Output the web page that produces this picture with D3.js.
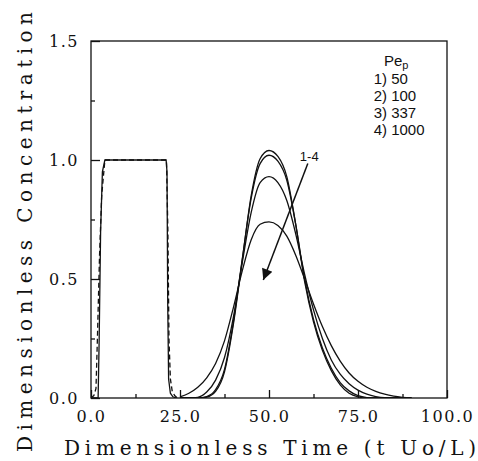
<!DOCTYPE html>
<html>
<head>
<meta charset="utf-8">
<script src="https://cdnjs.cloudflare.com/ajax/libs/d3/7.8.5/d3.min.js"></script>
<style>
  body { margin: 0; background: #fff; }
  .tick text { font-family: "DejaVu Serif", serif; font-size: 16px; letter-spacing: 1.5px; fill: #111; }
  .axis path, .axis line { stroke: #111; stroke-width: 1.3; }
  .curve { fill: none; stroke: #111; stroke-width: 1.3; }
</style>
</head>
<body>
<div id="chart"></div>
<script>
// tick labels
var xTicks = [0, 25, 50, 75, 100];
var xMinor = [12.5, 37.5, 62.5, 87.5];
var yTicks = [0, 0.5, 1.0, 1.5];
var yMinor = [0.25, 0.75, 1.25];

// injected pulse (solid) and measured inlet (dashed)
var pulseSolidT = [0, 2.0, 2.3, 2.7, 3.2, 3.9, 21.1, 21.35, 21.55, 21.8, 22.3, 23.0, 24.0];
var pulseSolidC = [0, 0, 0.25, 0.7, 0.95, 1.0, 1.0, 0.95, 0.4, 0.08, 0.02, 0.005, 0];
var pulseDashT = [0, 0.8, 1.4, 1.8, 2.4, 3.0, 3.9, 21.2, 21.6, 21.9, 22.3, 22.8, 23.5, 24.3];
var pulseDashC = [0, 0.01, 0.04, 0.25, 0.6, 0.85, 1.0, 1.0, 0.7, 0.25, 0.08, 0.03, 0.01, 0];

// outlet curves, one per Pe_p
var peakT = [25, 27.5, 30, 32.5, 35, 37.5, 40, 42.5, 45, 47.5, 50, 52.5, 55, 57.5, 60, 62.5, 65, 67.5, 70, 72.5, 75, 77.5, 80, 82.5, 85, 87.5, 90];
var pe50 = [0.005, 0.02, 0.045, 0.085, 0.145, 0.24, 0.38, 0.535, 0.665, 0.73, 0.74, 0.725, 0.68, 0.60, 0.50, 0.395, 0.30, 0.22, 0.155, 0.105, 0.07, 0.045, 0.028, 0.016, 0.008, 0.003, 0];
var pe100 = [0, 0, 0.003, 0.025, 0.075, 0.17, 0.34, 0.57, 0.78, 0.905, 0.93, 0.905, 0.83, 0.69, 0.52, 0.37, 0.25, 0.16, 0.10, 0.06, 0.033, 0.016, 0.006, 0.001, 0, 0, 0];
var pe337 = [0, 0, 0, 0.006, 0.035, 0.12, 0.32, 0.585, 0.84, 0.985, 1.02, 0.995, 0.915, 0.73, 0.50, 0.33, 0.21, 0.125, 0.065, 0.03, 0.01, 0.002, 0, 0, 0, 0, 0];
var pe1000 = [0, 0, 0, 0.004, 0.028, 0.11, 0.31, 0.58, 0.85, 1.005, 1.04, 1.015, 0.93, 0.73, 0.49, 0.32, 0.20, 0.115, 0.055, 0.02, 0.005, 0, 0, 0, 0, 0, 0];

var legendTitle = "Pe";
var legendItems = ["1) 50", "2) 100", "3) 337", "4) 1000"];

var margin = { top: 41, right: 31, bottom: 63, left: 91 },
    width = 478 - margin.left - margin.right,
    height = 461 - margin.top - margin.bottom;

var svg = d3.select("#chart")
    .append("svg")
    .attr("width", 478)
    .attr("height", 461);

var g = svg.append("g")
    .attr("transform", "translate(" + margin.left + "," + margin.top + ")");

var x = d3.scaleLinear().domain([0, 100]).range([0, width]);
var y = d3.scaleLinear().domain([0, 1.5]).range([height, 0]);

var defs = svg.append("defs");
defs.append("clipPath").attr("id", "plot-clip")
    .append("rect").attr("width", width).attr("height", height + 1).attr("y", -1);

// frame
g.append("rect")
    .attr("width", width)
    .attr("height", height)
    .attr("fill", "none")
    .attr("stroke", "#111")
    .attr("stroke-width", 1.3);

// axes, ticks pointing in
g.append("g").attr("class", "axis")
    .attr("transform", "translate(0," + height + ")")
    .call(d3.axisBottom(x).tickValues(xTicks).tickSize(-8).tickPadding(13)
        .tickFormat(function(d) { return d3.format(".1f")(d); }));
g.append("g").attr("class", "axis")
    .attr("transform", "translate(0," + height + ")")
    .call(d3.axisBottom(x).tickValues(xMinor).tickSize(-4).tickFormat(""));

g.append("g").attr("class", "axis")
    .call(d3.axisLeft(y).tickValues(yTicks).tickSize(-9).tickPadding(12)
        .tickFormat(function(d) { return d3.format(".1f")(d); }));
g.append("g").attr("class", "axis")
    .call(d3.axisLeft(y).tickValues(yMinor).tickSize(-4).tickFormat(""));

g.selectAll(".axis .domain").remove();

// curves
var line = d3.line()
    .x(function(d) { return x(d[0]); })
    .y(function(d) { return y(d[1]); });

var plot = g.append("g").attr("clip-path", "url(#plot-clip)");

plot.append("path")
    .datum(d3.zip(pulseDashT, pulseDashC))
    .attr("class", "curve")
    .attr("stroke-dasharray", "5,3")
    .attr("d", line);

plot.append("path")
    .datum(d3.zip(pulseSolidT, pulseSolidC))
    .attr("class", "curve")
    .attr("d", line);

var smooth = d3.line()
    .x(function(d) { return x(d[0]); })
    .y(function(d) { return y(d[1]); })
    .curve(d3.curveMonotoneX);

[pe50, pe100, pe337, pe1000].forEach(function(vals) {
    plot.append("path")
        .datum(d3.zip(peakT, vals))
        .attr("class", "curve")
        .attr("d", smooth);
});

// legend
var leg = g.append("g")
    .style("font-family", "'Liberation Sans', Arial, sans-serif")
    .style("font-size", "15px")
    .attr("fill", "#111");

var pe = leg.append("text").attr("x", x(82.3)).attr("y", y(1.395));
pe.append("tspan").text(legendTitle);
pe.append("tspan").attr("dy", 3).style("font-size", "11px").text("p");

leg.selectAll(".item")
    .data(legendItems)
    .enter()
    .append("text")
    .attr("class", "item")
    .attr("x", x(79.4))
    .attr("y", function(d, i) { return y(1.318) + i * 17; })
    .text(function(d) { return d; });

// arrow 1-4
defs.append("marker")
    .attr("id", "head")
    .attr("viewBox", "0 0 10 10")
    .attr("refX", 10).attr("refY", 5)
    .attr("markerWidth", 17).attr("markerHeight", 11)
    .attr("markerUnits", "userSpaceOnUse")
    .attr("orient", "auto")
    .append("path")
    .attr("d", "M0,0 L10,5 L0,10 Z")
    .attr("fill", "#111");

g.append("line")
    .attr("x1", x(60.9)).attr("y1", y(0.985))
    .attr("x2", x(48.4)).attr("y2", y(0.496))
    .attr("stroke", "#111")
    .attr("stroke-width", 1.5)
    .attr("marker-end", "url(#head)");

leg.append("text")
    .attr("x", x(61.3)).attr("y", y(0.995))
    .attr("text-anchor", "middle")
    .style("font-size", "13px")
    .text("1-4");

// axis titles
svg.append("text")
    .attr("x", 64).attr("y", 455)
    .attr("textLength", 412)
    .attr("lengthAdjust", "spacing")
    .style("font-family", "'DejaVu Serif', serif")
    .style("font-size", "20px")
    .attr("fill", "#111")
    .text("Dimensionless Time (t Uo/L)");

svg.append("text")
    .attr("transform", "translate(32,452) rotate(-90)")
    .attr("textLength", 440)
    .attr("lengthAdjust", "spacing")
    .style("font-family", "'DejaVu Serif', serif")
    .style("font-size", "20px")
    .attr("fill", "#111")
    .text("Dimensionless Concentration");
</script>
</body>
</html>
